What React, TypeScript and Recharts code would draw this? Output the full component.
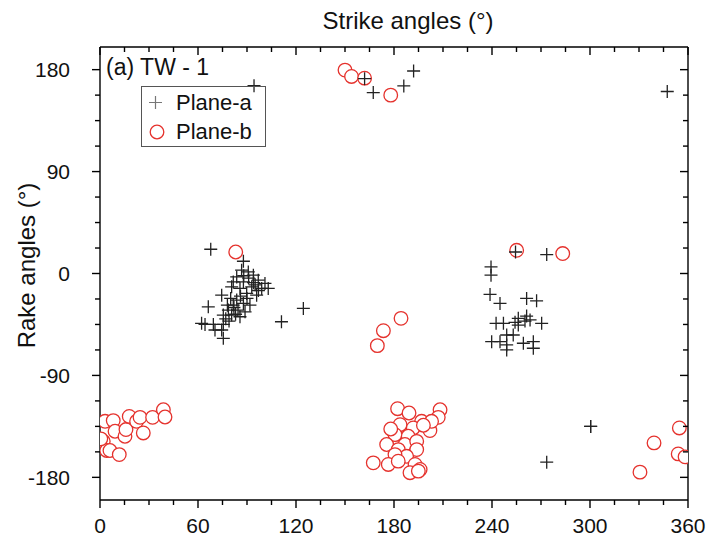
import React from 'react';
import { ScatterChart, Scatter, XAxis, YAxis, Legend } from 'recharts';

const FONT = '"Liberation Sans", Arial, Helvetica, sans-serif';

// axis ticks
const strikeTicks = [0, 15, 30, 45, 60, 75, 90, 105, 120, 135, 150, 165, 180, 195, 210, 225, 240, 255, 270, 285, 300, 315, 330, 345, 360];
const strikeMajor = [0, 60, 120, 180, 240, 300, 360];
const rakeTicks = [-180, -157.5, -135, -112.5, -90, -67.5, -45, -22.5, 0, 22.5, 45, 67.5, 90, 112.5, 135, 157.5, 180];
const rakeMajor = [-180, -90, 0, 90, 180];

// Plane-a: [strike, rake]
const planeA: [number, number][] = [
  [94.3, 165.8], [162, 172], [167.3, 159.8], [186, 165.6], [192, 178.8], [347.3, 160.7],
  [67.8, 21.4], [87.8, 10.8], [86.7, 2.9], [90.8, 1.4], [93.9, -1.5], [83.7, -3], [81.6, -7.4],
  [87.8, -7.4], [96.9, -5.9], [101, -8.8], [103, -13.2], [99, -13.2], [92.9, -11.8], [85.7, -13.2],
  [80.6, -11.8], [74.5, -19.1], [89.8, -17.6], [95.9, -19.1], [83.7, -23.5], [87.8, -26.4],
  [81.6, -27.9], [91.8, -27.9], [78.6, -32.3], [84.5, -32.3], [88.8, -33.8], [80.6, -36.7],
  [75.5, -36.7], [85.7, -38.2], [66.3, -29.4], [124.5, -30.8], [111.1, -42.6], [62.2, -44],
  [64.3, -45], [69.4, -45], [75.5, -45], [74.5, -49.9], [70.4, -49.9], [75.5, -57.2],
  [77, -40], [79, -42], [82, -30], [86, -20], [94, -8], [97, -15], [91, -4],
  [78, -28], [83, -36], [80, -22], [90, -22], [95, -10], [88, -2],
  [254.4, 19], [273.5, 16.7], [239.4, 5.8], [239.4, -1.5], [238.8, -18.5], [244.9, -26.4],
  [261.2, -22], [267.3, -24.1], [261.2, -37.6], [256.1, -39.6], [242.5, -44], [247, -44],
  [254.1, -43.1], [260.2, -42], [263.3, -41], [270.4, -44], [249, -54.3], [253, -54.3],
  [239.8, -60.2], [244.9, -60.2], [249, -63.1], [259.2, -61.6], [265.3, -60.2], [265.3, -66],
  [249, -67.5], [256.1, -45.5],
  [300.4, -135], [300.4, -135], [273.5, -166.6],
];

// Plane-b: [strike, rake]
const planeB: [number, number][] = [
  [150, 179.6], [154, 174], [162, 172.5], [178, 157.5],
  [83.1, 19], [255.1, 20.5], [283.3, 17.6], [184.3, -39.6], [173.5, -50.5], [169.8, -63.7],
  [3.1, -130.5], [8.1, -129.9], [9.2, -139.3], [15.3, -143.7], [15.9, -137.8], [17.9, -126.2],
  [22.4, -130.5], [24.5, -127], [26.5, -140.8], [32.2, -127], [38.8, -120.3], [39.8, -126.7],
  [2, -148.2], [4.1, -156.3], [6.1, -156.3], [11.8, -159.9], [0.5, -146],
  [182.2, -119.4], [189.2, -123.2], [208.2, -120.3], [207.1, -127], [196.9, -130.5], [202, -138.7],
  [183.7, -133.5], [191.8, -136.4], [180.6, -142.3], [188.7, -143.7], [186.7, -151], [193.9, -148.2],
  [175.5, -151], [193.9, -155.5], [182.6, -155.5], [187.7, -161.4], [180.6, -159.9], [176.5, -168.6],
  [167.3, -167.2], [182.6, -165.7], [192.9, -168.6], [189.8, -175.9], [196, -173], [203, -130.5],
  [198, -134], [178, -137.3], [194.9, -174.5],
  [354.7, -136.4], [339.2, -149.6], [354, -159.3], [358.2, -161.9], [330.6, -175.4],
];

const seriesNames = ['Plane-a', 'Plane-b'];
const CROSS = '#222';
const RED = '#e5322d';

const planeAData = planeA.map(([x, y]) => ({ x, y }));
const planeBData = planeB.map(([x, y]) => ({ x, y }));

function AxisTick(props: any) {
  const { x, y, payload, side } = props;
  const v = payload.value;
  const horiz = side === 'bottom' || side === 'top';
  const major = horiz ? strikeMajor.includes(v) : rakeMajor.includes(v);
  const len = major ? 8 : 5;
  const common = { stroke: '#000', strokeWidth: 1.4 };
  if (side === 'bottom') {
    return (
      <g>
        <line x1={x} y1={y} x2={x} y2={y + len} {...common} />
        {major && (
          <text x={x} y={y + 33} textAnchor="middle" fontSize={21} fontFamily={FONT} fill="#111">{v}</text>
        )}
      </g>
    );
  }
  if (side === 'top') {
    return <line x1={x} y1={y} x2={x} y2={y + len} {...common} />;
  }
  if (side === 'left') {
    return (
      <g>
        <line x1={x} y1={y} x2={x - len} y2={y} {...common} />
        {major && (
          <text x={x - 30} y={y} dy="0.36em" textAnchor="end" fontSize={21} fontFamily={FONT} fill="#111">{v}</text>
        )}
      </g>
    );
  }
  return <line x1={x} y1={y} x2={x - len} y2={y} {...common} />;
}

function CrossMark(props: any) {
  const { cx, cy } = props;
  if (cx == null || cy == null) return null;
  const r = 6.5;
  return <path d={`M${cx - r},${cy}H${cx + r}M${cx},${cy - r}V${cy + r}`} stroke={CROSS} strokeWidth={1.3} fill="none" />;
}

function CircleMark(props: any) {
  const { cx, cy } = props;
  if (cx == null || cy == null) return null;
  return <circle cx={cx} cy={cy} r={6.8} fill="#fff" stroke={RED} strokeWidth={1.3} />;
}

function LegendBox() {
  return (
    <svg width={125} height={61} style={{ display: 'block' }}>
      <rect x={0.5} y={0.5} width={124} height={60} fill="none" stroke="#555" strokeWidth={1} />
      <path d="M8,16.5H21M14.5,10V23" stroke="#777" strokeWidth={1.2} fill="none" />
      <text x={35} y={24} fontSize={22} fontFamily={FONT} fill="#111">{seriesNames[0]}</text>
      <circle cx={16} cy={46} r={6.8} fill="#fff" stroke={RED} strokeWidth={1.3} />
      <text x={35} y={53} fontSize={22} fontFamily={FONT} fill="#111">{seriesNames[1]}</text>
    </svg>
  );
}

export default function App() {
  return (
    <div style={{ position: 'absolute', left: 0, top: 0, width: 706, height: 538, background: '#fff' }}>
      <ScatterChart width={706} height={538} margin={{ top: 46, right: 17, bottom: 0, left: 0 }}>
        <XAxis
          xAxisId="top"
          orientation="top"
          type="number"
          dataKey="x"
          domain={[0, 360]}
          ticks={strikeTicks}
          interval={0}
          height={1}
          tickSize={0}
          tickMargin={0}
          tickLine={false}
          allowDataOverflow
          axisLine={{ stroke: '#000', strokeWidth: 1.4 }}
          tick={<AxisTick side="top" />}
          label={{ value: 'Strike angles (°)', position: 'top', offset: 17, dx: 14, fontSize: 24, fontFamily: FONT, fill: '#111' }}
        />
        <XAxis
          xAxisId="bottom"
          orientation="bottom"
          type="number"
          dataKey="x"
          domain={[0, 360]}
          ticks={strikeTicks}
          interval={0}
          height={38}
          tickSize={0}
          tickMargin={0}
          tickLine={false}
          allowDataOverflow
          axisLine={{ stroke: '#000', strokeWidth: 1.4 }}
          tick={<AxisTick side="bottom" />}
        />
        <YAxis
          yAxisId="left"
          orientation="left"
          type="number"
          dataKey="y"
          domain={[-200, 200]}
          ticks={rakeTicks}
          interval={0}
          width={100}
          tickSize={0}
          tickMargin={0}
          tickLine={false}
          allowDataOverflow
          axisLine={{ stroke: '#000', strokeWidth: 1.4 }}
          tick={<AxisTick side="left" />}
          label={{ value: 'Rake angles (°)', angle: -90, position: 'center', dx: -24, dy: -8, fontSize: 24, fontFamily: FONT, fill: '#111' }}
        />
        <YAxis
          yAxisId="right"
          orientation="right"
          type="number"
          dataKey="y"
          domain={[-200, 200]}
          ticks={rakeTicks}
          interval={0}
          width={1}
          tickSize={0}
          tickMargin={0}
          tickLine={false}
          allowDataOverflow
          axisLine={{ stroke: '#000', strokeWidth: 1.4 }}
          tick={<AxisTick side="right" />}
        />
        <Scatter
          name={seriesNames[1]}
          data={planeBData}
          xAxisId="bottom"
          yAxisId="left"
          shape={(p: any) => <CircleMark {...p} />}
          isAnimationActive={false}
        />
        <Scatter
          name={seriesNames[0]}
          data={planeAData}
          xAxisId="bottom"
          yAxisId="left"
          shape={(p: any) => <CrossMark {...p} />}
          isAnimationActive={false}
        />
        <Legend
          layout="horizontal"
          verticalAlign="middle"
          align="center"
          wrapperStyle={{ position: 'absolute', left: 141, top: 86, width: 125, height: 61 }}
          content={() => <LegendBox />}
        />
        <text x={106} y={75} fontSize={23} fontFamily={FONT} fill="#111">(a) TW - 1</text>
      </ScatterChart>
    </div>
  );
}
